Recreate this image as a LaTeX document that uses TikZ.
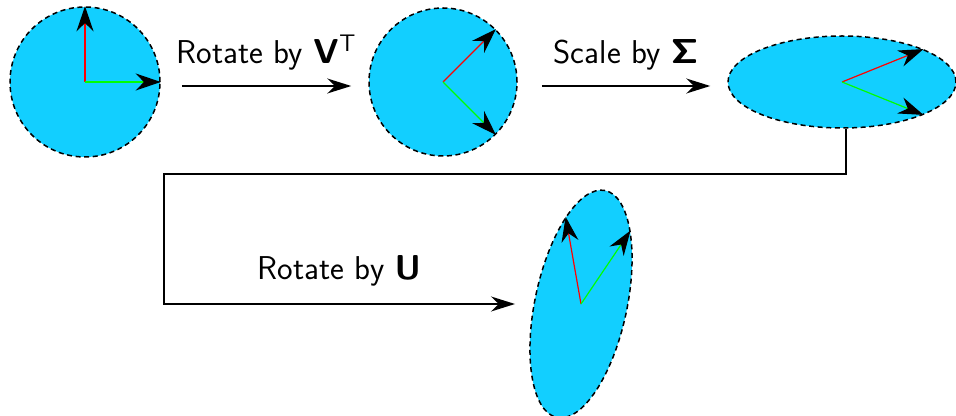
\documentclass[tikz,border=0pt]{standalone}
\usepackage{amsmath}
\usetikzlibrary{arrows.meta}
\usetikzlibrary{shapes.geometric}
\usetikzlibrary{positioning}
\DeclareMathAlphabet{\mathsfbf}{OT1}{cmss}{bx}{n}
\DeclareMathAlphabet{\mathsfrm}{OT1}{cmss}{m}{n}
\definecolor{disk}{RGB}{18,207,255}

\begin{document}
\begin{tikzpicture}[
  x=0.5pt, y=-0.5pt,
  blob/.style={draw,fill=disk,inner sep=0pt,line width=0.75pt,dash pattern=on 2.5pt off 1.8pt},
  vec/.style={line width=0.6pt,-{Stealth[length=12.5pt,width=8.5pt,color=black]}},
  conn/.style={line width=0.75pt,-{Stealth[length=12pt,width=7.5pt]}},
  lbl/.style={font=\sffamily\fontsize{16.5}{20}\selectfont}
]
  \useasboundingbox (0,0) rectangle (956,416);

  \node[blob,circle,minimum size=75pt] (c1) at (85,82) {};
  \node[blob,circle,minimum size=74pt] (c2) at (443,82) {};
  \node[blob,ellipse,minimum width=114pt,minimum height=46pt] (e3) at (842,82) {};
  \node[blob,ellipse,minimum width=116pt,minimum height=46pt,rotate=78] (e4) at (581,304) {};

  % basis vectors
  \draw[vec,red]   (c1.center)--(c1.north);
  \draw[vec,green] (c1.center)--(c1.east);
  \draw[vec,red]   (c2.center)--(c2.45);
  \draw[vec,green] (c2.center)--(c2.-45);
  \draw[vec,red]   (e3.center)--(e3.22);
  \draw[vec,green] (e3.center)--(e3.-22);
  \draw[vec,red]   (e4.center)--(e4.22);
  \draw[vec,green] (e4.center)--(e4.-22);

  % steps
  \coordinate (bend) at (164,174);
  \draw[conn] ([shift={(10.5pt,-2pt)}]c1.east)--node[lbl,above=4pt]{Rotate by $\mathsfbf{V}^{\mathsfrm{T}}$}([shift={(-8.5pt,-2pt)}]c2.west);
  \draw[conn] ([shift={(12pt,-2pt)}]c2.east)--node[lbl,above=4pt]{Scale by $\mathsfbf{\Sigma}$}([shift={(-8.5pt,-2pt)}]e3.west);
  \draw[conn] ([xshift=2pt]e3.south) |- (bend) |- node[lbl,pos=0.75,above=5pt]{Rotate by $\mathsfbf{U}$}([xshift=-33pt]e4.center);
\end{tikzpicture}
\end{document}
